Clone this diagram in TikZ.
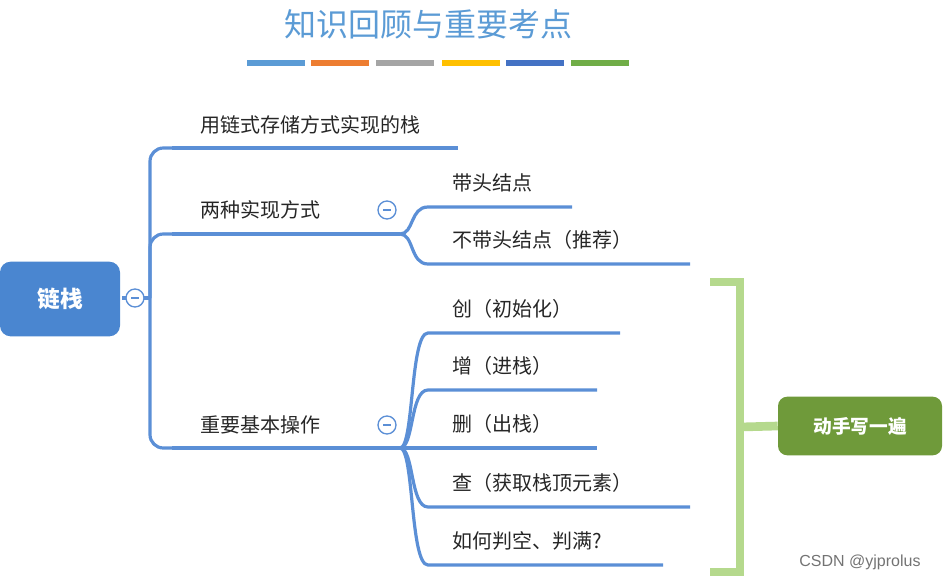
\documentclass[tikz,border=0pt]{standalone}
\usepackage{fontspec}
\setmainfont{Noto Sans CJK SC}
\newfontfamily\latin{Liberation Sans}
\definecolor{ln}{HTML}{5B8FD6}
\definecolor{rootc}{HTML}{4A86D0}
\definecolor{lg}{HTML}{B5D98D}
\definecolor{dg}{HTML}{6F9A3A}
\definecolor{tt}{HTML}{5B9BD5}
\begin{document}
\begin{tikzpicture}[x=0.75pt,y=-0.75pt,
  lbl/.style={anchor=west,inner sep=0,font=\fontsize{15}{17}\selectfont,text=black!85},
  br/.style={draw=ln,line width=2.4pt},
  tog/.style={circle,draw=ln,line width=1pt,fill=white,minimum size=13.5pt,inner sep=0}]
\useasboundingbox (0,0) rectangle (944,581);
\node (title) at (428,24) {\fontsize{24}{26}\selectfont\color{tt}知识回顾与重要考点};
\foreach \a/\c in {247/5B9BD5,311/ED7D31,376/A5A5A5,442/FFC000,506/4472C4,571/70AD47}{
  \definecolor{tmp}{HTML}{\c}\fill[tmp] (\a,60) rectangle ++(58,6);}
\node[fill=rootc,rounded corners=8pt,minimum width=90pt,minimum height=56pt,text=white,font=\fontsize{17}{19}\selectfont\bfseries] (root) at (60,299) {链栈};
\coordinate (r0) at (150,298);
\foreach \y in {148,234,448}{\draw[br,rounded corners=10pt] (r0) |- (172,\y);}
\draw[br] (122,298) -- (r0);
\node[tog] (t0) at (135,298) {};
\draw[ln,line width=1pt] (131,298) -- (139,298);
\draw[br] (172,148) -- (458,148);
\node[lbl] (a) at (200,125) {用链式存储方式实现的栈};
\draw[br] (172,234) -- (368,234);
\node[lbl] (b) at (200,210) {两种实现方式};
\draw[br] (172,448) -- (368,448);
\node[lbl] (c) at (200,425) {重要基本操作};
\coordinate (b0) at (400,234);
\coordinate (c0) at (400,448);
\draw[br] (368,234) -- (b0); \draw[br] (368,448) -- (c0);
\foreach \y/\e/\t in {207/572/带头结点,264/690/不带头结点（推荐）}{
  \draw[br] (b0) .. controls (414,234) and (410,\y) .. (428,\y) -- (\e,\y);
  \node[lbl] at (452,\y-24) {\t};}
\foreach \y/\e/\t in {333/620/创（初始化）,390/597/增（进栈）,448/597/删（出栈）,507/690/查（获取栈顶元素）,565/663/如何判空、判满?}{
  \draw[br] (c0) .. controls (414,448) and (410,\y) .. (428,\y) -- (\e,\y);
  \node[lbl] at (452,\y-24) {\t};}
\node[tog] (t1) at (387,210) {}; \draw[ln,line width=1pt] (383,210) -- (391,210);
\node[tog] (t2) at (387,425) {}; \draw[ln,line width=1pt] (383,425) -- (391,425);
\node[fill=dg,rounded corners=7pt,minimum width=123pt,minimum height=44pt,text=white,font=\fontsize{14}{16}\selectfont\bfseries] (hw) at (860,426) {动手写一遍};
\draw[lg,line width=6.5pt] (710,282) -- (740,282) -- (740,572) -- (710,572);
\draw[lg,line width=6.5pt] (740,427) -- (hw.west);
\node[text=black!55,font=\latin\fontsize{12}{14}\selectfont] (wm) at (860,562) {CSDN @yjprolus};
\end{tikzpicture}
\end{document}
